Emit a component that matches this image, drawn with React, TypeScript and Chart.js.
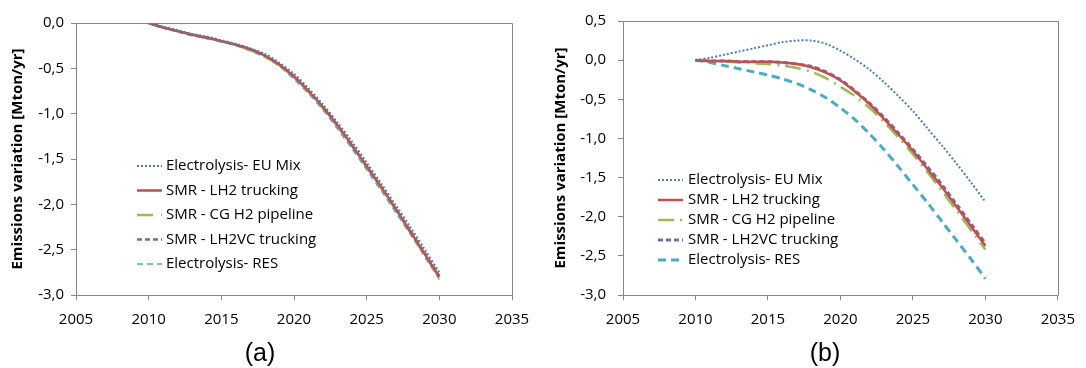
import React, { useEffect, useRef } from 'react';
import { Chart, registerables } from 'chart.js';

Chart.register(...registerables);

// ---------- DATA ----------
const years = [2010, 2011, 2012, 2013, 2014, 2015, 2016, 2017, 2018, 2019, 2020, 2021, 2022, 2023, 2024, 2025, 2026, 2027, 2028, 2029, 2030];

const seriesLabels = [
  'Electrolysis- EU Mix',
  'SMR - LH2 trucking',
  'SMR - CG H2 pipeline',
  'SMR - LH2VC trucking',
  'Electrolysis- RES',
];

// Panel (a)
const aEUMix = [0, -0.04, -0.08, -0.12, -0.15, -0.19, -0.23, -0.28, -0.34, -0.44, -0.56, -0.72, -0.90, -1.10, -1.31, -1.54, -1.77, -2.01, -2.25, -2.50, -2.75];
const aLH2 = [0, -0.05, -0.09, -0.13, -0.16, -0.20, -0.24, -0.29, -0.36, -0.46, -0.59, -0.75, -0.93, -1.13, -1.35, -1.58, -1.81, -2.05, -2.30, -2.55, -2.80];
const aCGH2 = [0, -0.05, -0.09, -0.13, -0.17, -0.20, -0.24, -0.30, -0.37, -0.47, -0.60, -0.76, -0.94, -1.14, -1.36, -1.59, -1.82, -2.06, -2.31, -2.56, -2.81];
const aLH2VC = [0, -0.05, -0.09, -0.13, -0.16, -0.20, -0.24, -0.29, -0.36, -0.46, -0.59, -0.75, -0.93, -1.13, -1.35, -1.58, -1.81, -2.05, -2.29, -2.54, -2.79];
const aRES = [0, -0.05, -0.10, -0.14, -0.17, -0.21, -0.25, -0.31, -0.38, -0.48, -0.62, -0.78, -0.96, -1.17, -1.39, -1.62, -1.85, -2.09, -2.33, -2.58, -2.83];

// Panel (b)
const bEUMix = [0, 0.03, 0.07, 0.11, 0.15, 0.19, 0.23, 0.25, 0.25, 0.21, 0.12, 0.01, -0.12, -0.28, -0.46, -0.65, -0.87, -1.09, -1.32, -1.56, -1.81];
const bLH2 = [0, -0.01, -0.01, -0.02, -0.02, -0.02, -0.03, -0.05, -0.09, -0.16, -0.26, -0.40, -0.56, -0.75, -0.95, -1.16, -1.39, -1.62, -1.87, -2.12, -2.37];
const bCGH2 = [0, -0.01, -0.02, -0.03, -0.04, -0.05, -0.07, -0.10, -0.15, -0.23, -0.34, -0.46, -0.61, -0.79, -0.99, -1.20, -1.43, -1.67, -1.92, -2.17, -2.42];
const bLH2VC = [0, -0.01, -0.01, -0.02, -0.02, -0.02, -0.03, -0.05, -0.08, -0.15, -0.25, -0.39, -0.55, -0.73, -0.93, -1.14, -1.36, -1.59, -1.84, -2.09, -2.34];
const bRES = [0, -0.03, -0.07, -0.11, -0.15, -0.19, -0.24, -0.30, -0.38, -0.48, -0.61, -0.76, -0.94, -1.14, -1.36, -1.59, -1.82, -2.06, -2.30, -2.54, -2.79];

const xMin = 2005;
const xMax = 2035;
const xStep = 5;
const aYMin = -3;
const aYMax = 0;
const bYMin = -3;
const bYMax = 0.5;
const yStep = 0.5;

const yTitle = 'Emissions variation [Mton/yr]';
const captions = ['(a)', '(b)'];

// ---------- STYLE ----------
const FONT = '"Open Sans", Lato, sans-serif';
const AXIS_GRAY = '#868686';
const colors = ['#4A7EBB', '#C0504D', '#9BBB59', '#8064A2', '#4BACC6'];

const pts = (vals: number[]) => years.map((y, i) => ({ x: y, y: vals[i] }));

const framePlugin = {
  id: 'frame',
  beforeDatasetsDraw(chart: any) {
    const { ctx, chartArea } = chart;
    ctx.save();
    ctx.strokeStyle = AXIS_GRAY;
    ctx.lineWidth = 1;
    const l = Math.round(chartArea.left) + 0.5;
    const t = Math.round(chartArea.top) + 0.5;
    const r = Math.round(chartArea.right) + 0.5;
    const b = Math.round(chartArea.bottom) + 0.5;
    ctx.beginPath();
    ctx.moveTo(l, t);
    ctx.lineTo(r, t);
    ctx.lineTo(r, b);
    ctx.stroke();
    ctx.restore();
  },
};

const insideLegendPlugin = {
  id: 'insideLegend',
  afterDraw(chart: any, _args: any, opts: any) {
    const { ctx } = chart;
    ctx.save();
    ctx.font = `15px ${FONT}`;
    ctx.textBaseline = 'middle';
    ctx.fillStyle = '#000';
    chart.data.datasets.forEach((ds: any, i: number) => {
      const y = opts.y + i * opts.rowGap;
      ctx.save();
      ctx.strokeStyle = ds.borderColor;
      ctx.lineWidth = ds.borderWidth;
      ctx.setLineDash(ds.borderDash || []);
      ctx.lineCap = 'butt';
      ctx.beginPath();
      ctx.moveTo(opts.x, y);
      ctx.lineTo(opts.x + opts.sampleWidth, y);
      ctx.stroke();
      ctx.restore();
      ctx.fillText(ds.label, opts.x + opts.sampleWidth + opts.textGap, y);
    });
    ctx.restore();
  },
};

type Panel = {
  series: number[][];
  dashes: number[][];
  widths: number[];
  yMin: number;
  yMax: number;
  yWidth: number;
  padRight: number;
  padTop: number;
  tickPad: number;
  legend: { x: number; y: number; rowGap: number; sampleWidth: number; textGap: number };
};

const panels: Panel[] = [
  {
    series: [aEUMix, aLH2, aCGH2, aLH2VC, aRES],
    dashes: [[2, 2], [], [16, 8], [5, 3], [6, 4]],
    widths: [2, 2.5, 2.5, 2.5, 1.5],
    yMin: aYMin,
    yMax: aYMax,
    yWidth: 76,
    padRight: 31,
    padTop: 23,
    tickPad: 7,
    legend: { x: 137, y: 166, rowGap: 24.5, sampleWidth: 25, textGap: 4 },
  },
  {
    series: [bEUMix, bLH2, bCGH2, bLH2VC, bRES],
    dashes: [[2, 2], [], [16, 6, 2, 6], [5, 3], [8, 5]],
    widths: [2, 2.5, 2.5, 3, 3],
    yMin: bYMin,
    yMax: bYMax,
    yWidth: 80,
    padRight: 18,
    padTop: 19,
    tickPad: 12,
    legend: { x: 115, y: 180, rowGap: 20, sampleWidth: 25, textGap: 5 },
  },
];

function makeConfig(p: Panel): any {
  return {
    type: 'line',
    data: {
      datasets: p.series.map((vals, i) => ({
        label: seriesLabels[i],
        data: pts(vals),
        borderColor: colors[i],
        backgroundColor: colors[i],
        borderWidth: p.widths[i],
        borderDash: p.dashes[i],
        pointRadius: 0,
        fill: false,
        tension: 0.3,
      })),
    },
    options: {
      responsive: false,
      animation: false,
      devicePixelRatio: 1,
      layout: { padding: { left: 0, right: p.padRight, top: p.padTop, bottom: 33 } },
      plugins: {
        legend: { display: false },
        tooltip: { enabled: false },
        insideLegend: p.legend,
      },
      scales: {
        x: {
          type: 'linear',
          min: xMin,
          max: xMax,
          afterFit: (s: any) => {
            s.height = 40;
          },
          ticks: {
            stepSize: xStep,
            color: '#000',
            font: { family: FONT, size: 15 },
            padding: 11,
            maxRotation: 0,
            callback: (v: number) => String(v),
          },
          grid: { display: true, drawOnChartArea: false, drawTicks: true, tickLength: 5, color: AXIS_GRAY },
          border: { display: true, color: AXIS_GRAY, width: 1 },
        },
        y: {
          type: 'linear',
          min: p.yMin,
          max: p.yMax,
          afterFit: (s: any) => {
            s.width = p.yWidth;
          },
          ticks: {
            stepSize: yStep,
            color: '#000',
            font: { family: FONT, size: 15 },
            padding: p.tickPad,
            callback: (v: number) => v.toFixed(1).replace('.', ','),
          },
          grid: { display: true, drawOnChartArea: false, drawTicks: true, tickLength: 5, color: AXIS_GRAY },
          border: { display: true, color: AXIS_GRAY, width: 1 },
          title: {
            display: true,
            text: yTitle,
            color: '#000',
            font: { family: FONT, size: 15, weight: 'bold' },
            padding: { top: 9, bottom: 0 },
          },
        },
      },
    },
    plugins: [framePlugin, insideLegendPlugin],
  };
}

function PanelChart({ panel, left }: { panel: Panel; left: number }) {
  const ref = useRef<HTMLCanvasElement | null>(null);
  useEffect(() => {
    if (!ref.current) return;
    const chart = new Chart(ref.current, makeConfig(panel));
    return () => chart.destroy();
  }, [panel]);
  return (
    <canvas
      ref={ref}
      width={543}
      height={368}
      style={{ position: 'absolute', left, top: 0, width: 543, height: 368 }}
    />
  );
}

const captionStyle = (left: number): React.CSSProperties => ({
  position: 'absolute',
  left,
  top: 338,
  width: 120,
  textAlign: 'center',
  font: '25px "Liberation Sans", Arial, sans-serif',
  lineHeight: '28px',
  color: '#000',
});

export default function App() {
  return (
    <div style={{ position: 'absolute', left: 0, top: 0, width: 1086, height: 368, background: '#fff', overflow: 'hidden' }}>
      <PanelChart panel={panels[0]} left={0} />
      <PanelChart panel={panels[1]} left={543} />
      <div style={captionStyle(200)}>{captions[0]}</div>
      <div style={captionStyle(765)}>{captions[1]}</div>
    </div>
  );
}
